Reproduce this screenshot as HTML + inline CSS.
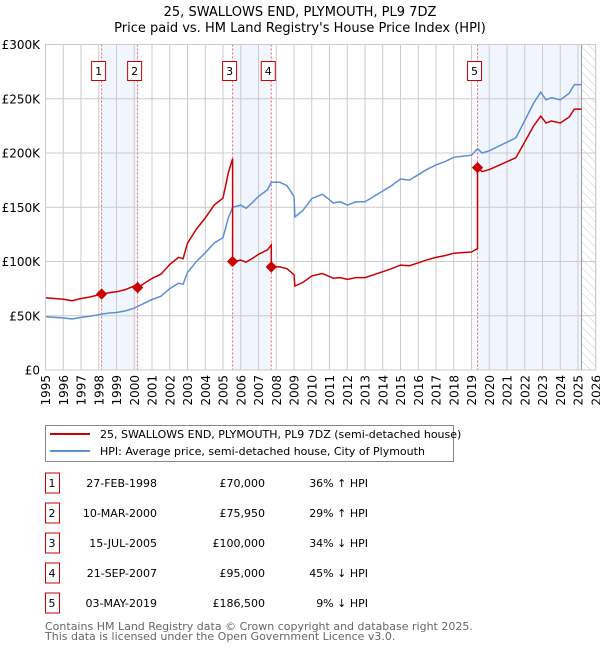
<!DOCTYPE html>
<html><head><meta charset="utf-8"><style>
body{margin:0;background:#fff;font-family:"DejaVu Sans","Liberation Sans",sans-serif;}
svg text{font-family:"DejaVu Sans","Liberation Sans",sans-serif;}
</style></head><body>
<svg id="chart" width="600" height="650">
<defs><pattern id="hatch" width="6" height="6" patternUnits="userSpaceOnUse" patternTransform="rotate(-45)"><line x1="0" y1="0" x2="0" y2="6" stroke="#ccc" stroke-width="1"/></pattern></defs>
<text x="300" y="16" text-anchor="middle" font-size="13">25, SWALLOWS END, PLYMOUTH, PL9 7DZ</text>
<text x="300" y="32" text-anchor="middle" font-size="13">Price paid vs. HM Land Registry's House Price Index (HPI)</text>
<g id="plot"></g>
<g>
<rect x="45.5" y="425.5" width="408" height="36" fill="#fff" stroke="#888"/>
<line x1="50" y1="434" x2="90" y2="434" stroke="#cc0000" stroke-width="2"/>
<text x="100" y="438" font-size="11">25, SWALLOWS END, PLYMOUTH, PL9 7DZ (semi-detached house)</text>
<line x1="50" y1="451" x2="90" y2="451" stroke="#5b8fd6" stroke-width="2"/>
<text x="100" y="455" font-size="11">HPI: Average price, semi-detached house, City of Plymouth</text>
</g>
<g id="table"></g>
<text x="45" y="630" font-size="11" fill="#666">Contains HM Land Registry data © Crown copyright and database right 2025.</text>
<text x="45" y="640" font-size="11" fill="#666">This data is licensed under the Open Government Licence v3.0.</text>
</svg>
<script>
const hpiYears=[1995,1995.5,1996,1996.5,1997,1997.5,1998,1998.16,1998.6,1999,1999.5,2000,2000.19,2000.5,2001,2001.5,2002,2002.5,2002.75,2003,2003.5,2004,2004.5,2005,2005.3,2005.54,2006,2006.3,2006.7,2007,2007.5,2007.72,2008.2,2008.6,2009,2009.05,2009.5,2010,2010.6,2011,2011.2,2011.6,2012,2012.5,2013,2013.5,2014,2014.5,2015,2015.5,2016,2016.5,2017,2017.5,2018,2018.5,2019,2019.34,2019.6,2020,2020.5,2021,2021.5,2022,2022.5,2022.9,2023.2,2023.5,2024,2024.5,2024.8,2025.2];
const hpiValues=[49,48.5,48,47,48.5,49.5,51,51.5,52.5,53,54.5,57,58.5,61,65,68,75,80,79,90,100,108,117,122,140,150,152,149,155,160,166,173,173,170,160,141,147,158,162,157,154,155,152,155,155,160,165,170,176,175,180,185,189,192,196,197,198,204,200,202,206,210,214,230,246,256,249,251,249,255,263,263];
const saleLabels=["1","2","3","4","5"];
const saleYears=[1998.16,2000.19,2005.54,2007.72,2019.34];
const salePrices=[70000,75950,100000,95000,186500];
const saleDates=["27-FEB-1998","10-MAR-2000","15-JUL-2005","21-SEP-2007","03-MAY-2019"];
const saleDiffs=["36% \u2191 HPI","29% \u2191 HPI","34% \u2193 HPI","45% \u2193 HPI","9% \u2193 HPI"];
const yTicks=[0,50,100,150,200,250,300];
const yTickLabels=["£0","£50K","£100K","£150K","£200K","£250K","£300K"];
const xTicks=[1995,1996,1997,1998,1999,2000,2001,2002,2003,2004,2005,2006,2007,2008,2009,2010,2011,2012,2013,2014,2015,2016,2017,2018,2019,2020,2021,2022,2023,2024,2025,2026];
const dataEnd=2025.2;

const X=y=>45.5+(y-1995)*17.75;
const Y=v=>370-v*1.085;
const NS="http://www.w3.org/2000/svg";
const plot=document.getElementById('plot');
function mk(tag,attrs,parent){const e=document.createElementNS(NS,tag);for(const k in attrs)e.setAttribute(k,attrs[k]);(parent||plot).appendChild(e);return e;}
function hpiAt(t){for(let i=1;i<hpiYears.length;i++){if(t<=hpiYears[i]){const a=hpiYears[i-1],b=hpiYears[i];return hpiValues[i-1]+(hpiValues[i]-hpiValues[i-1])*(t-a)/(b-a);}}return hpiValues[hpiValues.length-1];}

let bg=mk('rect',{x:45.5,y:44.5,width:550,height:325.5,fill:'#fff'});


for(let i=0;i<saleYears.length;i+=2){
  const x1=X(saleYears[i]);const x2=i+1<saleYears.length?X(saleYears[i+1]):X(dataEnd);
  let r=mk('rect',{x:x1,y:44.5,width:x2-x1,height:325.5,fill:'#eef3fc',opacity:0.8});
  
  
}
let h=mk('rect',{x:X(dataEnd),y:44.5,width:595.5-X(dataEnd),height:325.5,fill:'url(#hatch)'});


xTicks.forEach(t=>{let l=mk('line',{x1:X(t),x2:X(t),y1:44.5,y2:370,stroke:'#ccc','stroke-width':1});


let tx=mk('text',{x:0,y:0,'font-size':12,'text-anchor':'end',transform:`translate(${X(t)+4.5},375) rotate(-90)`});tx.textContent=t;

});
yTicks.forEach((t,i)=>{let l=mk('line',{x1:45.5,x2:595.5,y1:Y(t),y2:Y(t),stroke:'#ccc','stroke-width':1});


let tx=mk('text',{x:40,y:Y(t)+4.5,'font-size':12,'text-anchor':'end'});tx.textContent=yTickLabels[i];

});
let dl=mk('line',{x1:X(dataEnd),x2:X(dataEnd),y1:44.5,y2:370,stroke:'#999','stroke-width':1});


saleYears.forEach((s,i)=>{
  let l=mk('line',{x1:X(s),x2:X(s),y1:44.5,y2:370,stroke:'#f06060','stroke-width':1,'stroke-dasharray':'2,2'});
  
  
  let r=mk('rect',{x:X(s)-10,y:61.5,width:14,height:19,fill:'#fff',stroke:'#cc0000'});
  
  
  let t=mk('text',{x:X(s)-3,y:75,'font-size':11,'text-anchor':'middle'});t.textContent=saleLabels[i];
  
  
});
let hp=hpiYears.map((t,i)=>X(t).toFixed(1)+','+Y(hpiValues[i]).toFixed(1)).join(' ');
let hl=mk('polyline',{points:hp,fill:'none',stroke:'#5b8fd6','stroke-width':1.5});


let pts=[];
function factor(t){let k=0;for(let i=0;i<saleYears.length;i++)if(t>=saleYears[i])k=i;return salePrices[k]/1000/hpiAt(saleYears[k]);}
let times=hpiYears.slice();saleYears.forEach(s=>{times.push(s-0.001);times.push(s);});times.sort((a,b)=>a-b);
times.forEach(t=>pts.push(X(t).toFixed(1)+','+Y(hpiAt(t)*factor(t)).toFixed(1)));
let pl=mk('polyline',{points:pts.join(' '),fill:'none',stroke:'#cc0000','stroke-width':1.5});


saleYears.forEach((s,i)=>{let d=mk('rect',{x:X(s)-4,y:Y(salePrices[i]/1000)-4,width:8,height:8,fill:'#cc0000',transform:`rotate(45 ${X(s)} ${Y(salePrices[i]/1000)})`});

});
let ax=mk('rect',{x:45.5,y:44.5,width:550,height:325.5,fill:'none',stroke:'#ccc'});


const tb=document.getElementById('table');
saleLabels.forEach((lab,i)=>{const cy=483+i*30;
  let r=mk('rect',{x:45.5,y:cy-10,width:14,height:20,fill:'#fff',stroke:'#cc0000'},tb);
  
  
  const cells=[[52,'middle',lab],[157,'end',saleDates[i]],[265,'end','£'+salePrices[i].toLocaleString('en-GB')],[368,'end',saleDiffs[i]]];
  cells.forEach(c=>{let t=mk('text',{x:c[0],y:cy+4,'font-size':11,'text-anchor':c[1]},tb);t.textContent=c[2];
  
  });
});
</script>
</body></html>
